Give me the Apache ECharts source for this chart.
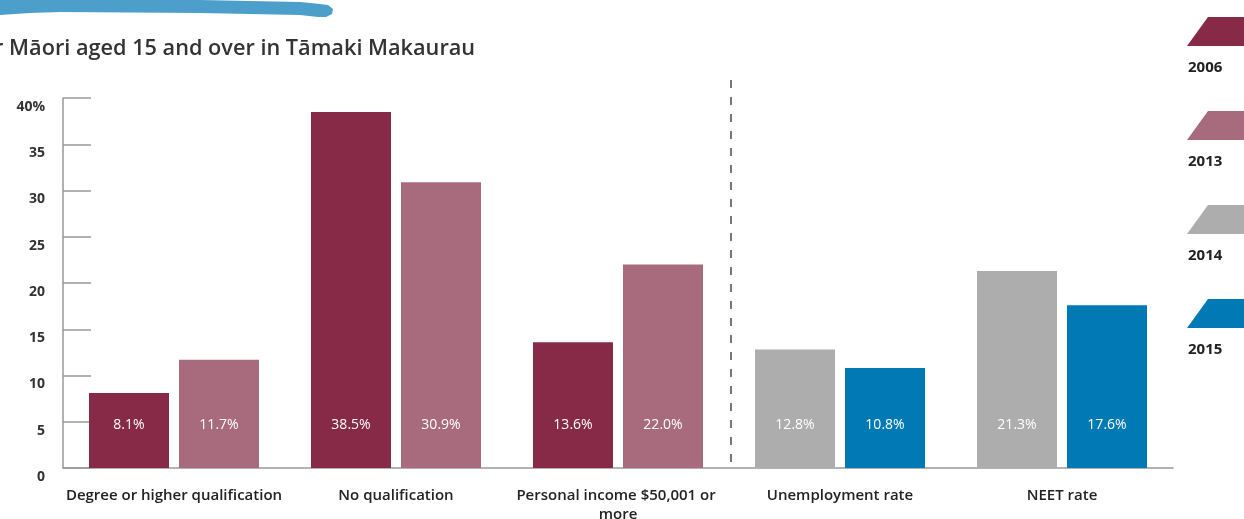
<!DOCTYPE html>
<html>
<head>
<meta charset="utf-8">
<script src="https://cdn.jsdelivr.net/npm/echarts@6/dist/echarts.min.js"></script>
<style>
  html, body { margin: 0; padding: 0; background: #fff; }
  #main { width: 1244px; height: 519px; }
</style>
</head>
<body>
<div id="main"></div>
<script>
// 数据
var categories = ['Degree or higher qualification', 'No qualification', 'Personal income $50,001 or more', 'Unemployment rate', 'NEET rate'];
var years = ['2006', '2013', '2014', '2015'];
var values2006 = [8.1, 38.5, 13.6, '-', '-'];
var values2013 = [11.7, 30.9, 22.0, '-', '-'];
var values2014 = ['-', '-', '-', 12.8, 21.3];
var values2015 = ['-', '-', '-', 10.8, 17.6];
var yTicks = [0, 5, 10, 15, 20, 25, 30, 35, 40];

var colors = ['#862a48', '#a86b7e', '#adadad', '#0079b4'];
var font = 'Open Sans';

var chart = echarts.init(document.getElementById('main'));

function barSeries(name, data, stack, color) {
    return {
        name: name,
        type: 'bar',
        stack: stack,
        data: data,
        barWidth: 80,
        barGap: '12.5%',
        itemStyle: { color: color },
        label: {
            show: true,
            position: 'insideBottom',
            distance: 36,
            color: '#fff',
            fontFamily: font,
            fontSize: 14,
            formatter: function (p) { return p.value.toFixed(1) + '%'; }
        }
    };
}

var option = {
    animation: false,
    color: colors,
    title: {
        text: 'for Māori aged 15 and over in Tāmaki Makaurau',
        left: -32,
        top: 33,
        textStyle: { fontFamily: font, fontSize: 21.7, fontWeight: 600, color: '#333' }
    },
    legend: [
        {
            data: years,
            orient: 'vertical',
            left: 1187,
            top: 17,
            padding: 0,
            itemWidth: 70,
            itemHeight: 29,
            itemGap: 65,
            icon: 'path://M0,29 L21,0 L70,0 L70,29 Z',
            selectedMode: false,
            formatter: function () { return ''; }
        },
        {
            data: years,
            orient: 'vertical',
            left: 1183,
            top: 58,
            padding: 0,
            itemWidth: 0,
            itemHeight: 0,
            itemGap: 74,
            icon: 'rect',
            selectedMode: false,
            textStyle: { fontFamily: font, fontSize: 15, fontWeight: 'bold', color: '#222', lineHeight: 20 }
        }
    ],
    grid: { left: 63, right: 71, top: 98, bottom: 51, containLabel: false, outerBoundsMode: 'none' },
    xAxis: {
        type: 'category',
        data: categories,
        axisLine: { lineStyle: { color: '#999', width: 1.5 } },
        axisTick: { inside: true, length: 10, lineStyle: { color: '#888' } },
        axisLabel: {
            margin: 18,
            width: 230,
            overflow: 'break',
            interval: 0,
            fontFamily: font,
            fontSize: 15,
            fontWeight: 600,
            color: '#222',
            lineHeight: 19
        }
    },
    yAxis: {
        type: 'value',
        min: 0,
        max: 40,
        interval: 5,
        splitLine: { show: false },
        axisLine: { show: true, lineStyle: { color: '#999', width: 1.5 } },
        axisTick: { show: true, inside: true, length: 28, lineStyle: { color: '#999', width: 1.5 } },
        axisLabel: {
            margin: 18,
            fontFamily: font,
            fontSize: 14,
            fontWeight: 'bold',
            color: '#333',
            verticalAlign: 'top',
            padding: [2, 0, 0, 0],
            formatter: function (v) { return yTicks.indexOf(v) === yTicks.length - 1 ? v + '%' : v; }
        }
    },
    series: [
        barSeries('2006', values2006, 'left', colors[0]),
        barSeries('2013', values2013, 'right', colors[1]),
        barSeries('2014', values2014, 'left', colors[2]),
        barSeries('2015', values2015, 'right', colors[3])
    ]
};

chart.setOption(option);

// 分隔虚线 + 顶部蓝色笔刷
var xa = chart.convertToPixel({ xAxisIndex: 0 }, categories[2]);
var xb = chart.convertToPixel({ xAxisIndex: 0 }, categories[3]);
var y0 = chart.convertToPixel({ yAxisIndex: 0 }, 0);
var yTop = chart.convertToPixel({ yAxisIndex: 0 }, 40);
var xd = (xa + xb) / 2 + 2;

chart.setOption({
    graphic: [
        {
            type: 'line',
            shape: { x1: xd, y1: yTop - 18, x2: xd, y2: y0 },
            style: { stroke: '#777', lineWidth: 2, lineDash: [8, 9] },
            z: 10
        },
        {
            type: 'polygon',
            shape: {
                points: [[0, -1], [200, 0], [300, 2], [320, 4], [328, 5], [333, 9], [332, 14], [326, 17], [318, 17],
                         [300, 15], [200, 13], [60, 12], [30, 13], [0, 15]]
            },
            style: { fill: '#4c9fca' }
        }
    ]
});

window.onresize = function () { chart.resize(); };
</script>
</body>
</html>
